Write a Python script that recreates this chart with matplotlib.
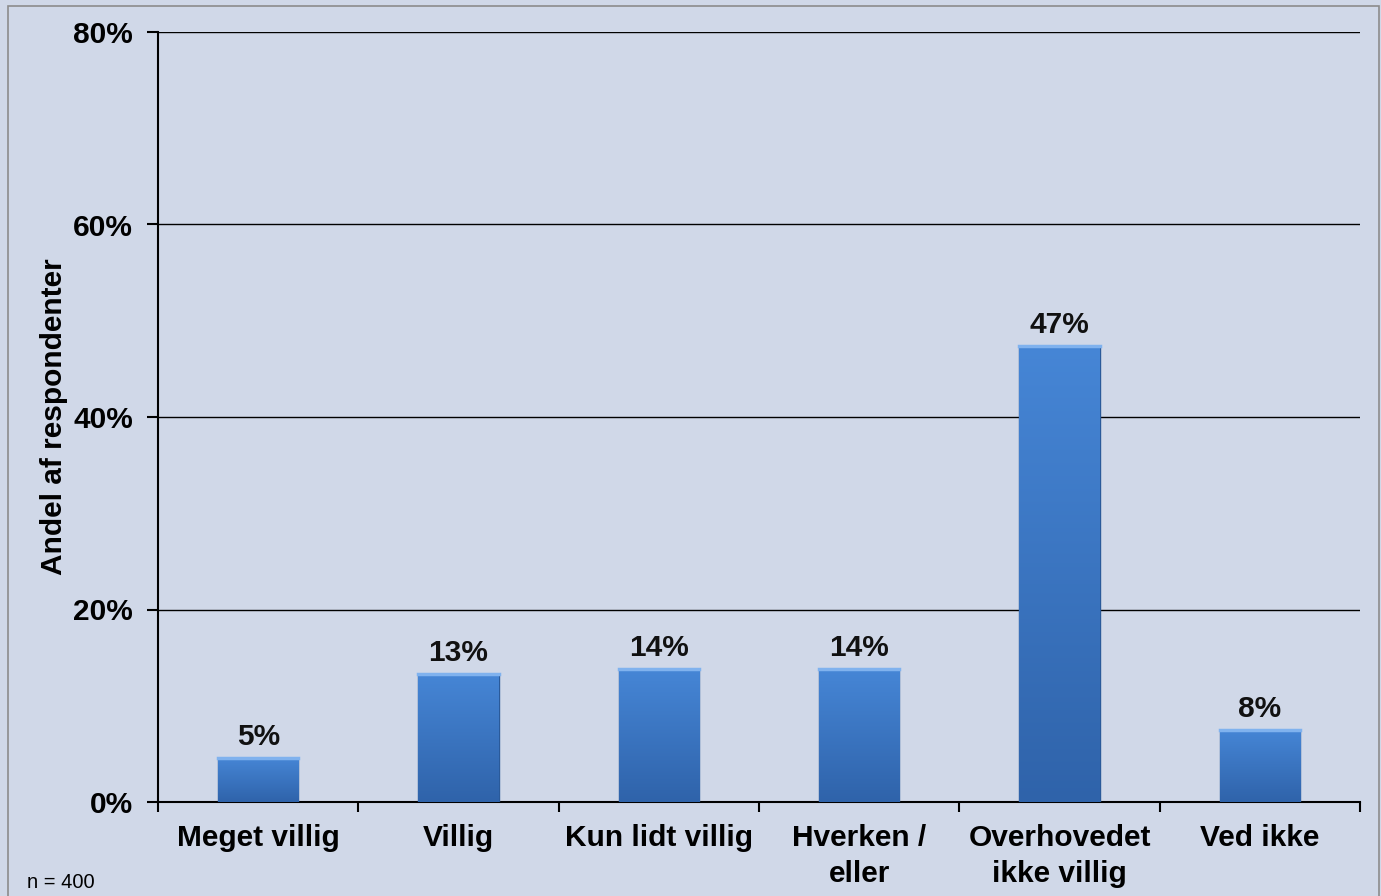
import numpy as np
import matplotlib.pyplot as plt
from matplotlib.ticker import FuncFormatter
from matplotlib.colors import LinearSegmentedColormap

plt.rcParams['font.family'] = ['Liberation Sans', 'DejaVu Sans']

# Data
categories = ['Meget villig', 'Villig', 'Kun lidt villig', 'Hverken /\neller',
              'Overhovedet\nikke villig', 'Ved ikke']
values = [4.6, 13.3, 13.8, 13.8, 47.4, 7.5]
labels = ['5%', '13%', '14%', '14%', '47%', '8%']
yticks = [0, 20, 40, 60, 80]

bg = '#D0D8E8'
fig = plt.figure(figsize=(13.81, 8.96), dpi=100, facecolor=bg)
ax = fig.add_axes([158 / 1381, 1 - 802 / 896, (1360 - 158) / 1381, (802 - 32) / 896])
ax.set_facecolor(bg)

# figure border
fig.patches.append(plt.Rectangle((8 / 1381, -0.01), (1379 - 8) / 1381, 1 - 6 / 896 + 0.01,
                                 transform=fig.transFigure, fill=False,
                                 edgecolor='#8C8C8C', linewidth=1.2))

x = np.arange(len(categories))
bars = ax.bar(x, values, width=0.4, color='#3D78C8', edgecolor='#2A5A9A',
              linewidth=1.0, zorder=3)

# vertical gradient inside each bar
grad = np.linspace(0, 1, 256).reshape(-1, 1)
cmap = LinearSegmentedColormap.from_list('b', ['#2F63AA', '#4686D6'])
for b in bars:
    x0, w, h = b.get_x(), b.get_width(), b.get_height()
    im = ax.imshow(grad, extent=[x0, x0 + w, 0, h], origin='lower', cmap=cmap,
                   aspect='auto', zorder=3.5)
    im.set_clip_path(b)
    ax.plot([x0, x0 + w], [h, h], color='#80B2EE', linewidth=2.5, zorder=4)

for xi, v, lab in zip(x, values, labels):
    ax.annotate(lab, (xi, v), xytext=(0, 5), textcoords='offset points',
                ha='center', va='bottom', fontsize=21.5, fontweight='bold',
                color='#111111')

ax.set_xlim(-0.5, len(categories) - 0.5)
ax.set_ylim(0, 80)
ax.set_yticks(yticks)
ax.yaxis.set_major_formatter(FuncFormatter(lambda v, p: f'{int(v)}%'))
ax.grid(axis='y', color='black', linewidth=1, zorder=0)
ax.set_axisbelow(True)

ax.set_xticks(np.arange(len(categories) + 1) - 0.5)
ax.set_xticklabels([])
ax.set_xticks(x, minor=True)
ax.set_xticklabels(categories, minor=True, fontsize=21.5, fontweight='bold',
                   linespacing=1.35)
ax.tick_params(axis='x', which='minor', length=0, pad=16)
ax.tick_params(axis='x', which='major', length=7, width=1.5, direction='out')
ax.tick_params(axis='y', length=8, width=1.5, direction='out', pad=10,
               labelsize=21.5)
for t in ax.get_yticklabels():
    t.set_fontweight('bold')

for s in ['top', 'right']:
    ax.spines[s].set_visible(False)
ax.spines['left'].set_linewidth(1.5)
ax.spines['bottom'].set_linewidth(1.5)

ax.set_ylabel('Andel af respondenter', fontsize=21.5, fontweight='bold', labelpad=4)

fig.text(27 / 1381, 1 - 888 / 896, 'n = 400', fontsize=14.5, va='baseline')

fig.savefig('out.png', dpi=100, facecolor=bg)
